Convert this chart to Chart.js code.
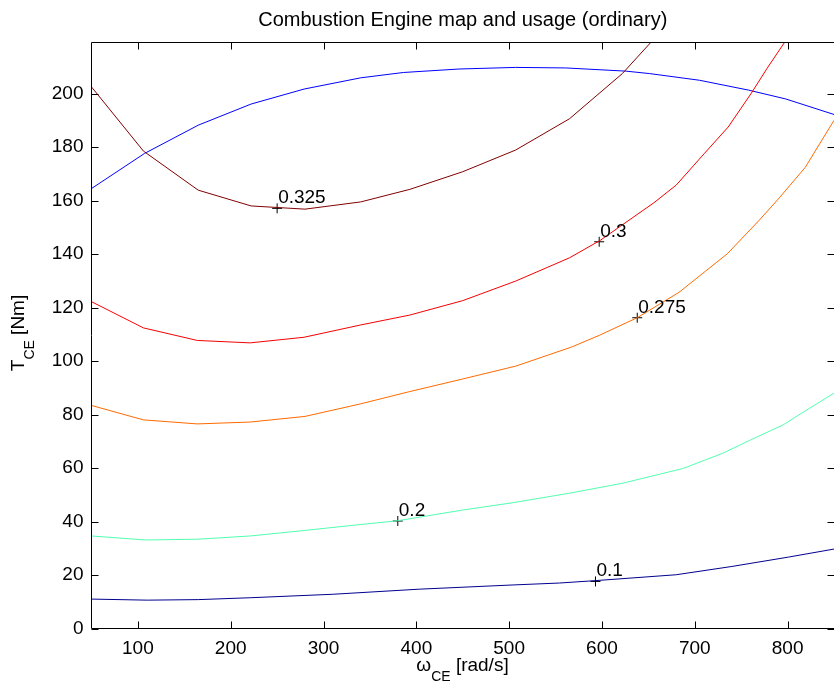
<!DOCTYPE html>
<html>
<head>
<meta charset="utf-8">
<title>Combustion Engine map and usage (ordinary)</title>
<script src="https://cdn.jsdelivr.net/npm/chart.js@4.4.0/dist/chart.umd.min.js"></script>
<style>
html,body{margin:0;padding:0;background:#fff;overflow:hidden;}
#wrap{position:absolute;left:0;top:0;width:840px;height:687px;}
</style>
</head>
<body>
<div id="wrap"><canvas id="map" width="840" height="687"></canvas></div>
<script>
// max torque curve, omega [rad/s] -> T [Nm]
const maxTqX = [50, 107, 165, 222, 279, 340, 386, 446, 507, 561, 626, 651, 705, 758, 798, 850];
const maxTqY = [164.5, 177.6, 188.2, 196.1, 201.7, 205.9, 207.9, 209.2, 209.8, 209.6, 208.4, 207.5, 205.0, 201.3, 198.0, 192.2];

// efficiency contours
const eff0325X = [50, 106, 165, 222, 280, 340, 393, 450, 507, 565, 622, 653];
const eff0325Y = [202.5, 178.5, 163.9, 158.0, 156.8, 159.5, 164.2, 170.8, 178.9, 190.6, 207.5, 219.3];

const eff030X = [50, 106, 164, 221, 279, 340, 393, 450, 507, 565, 598, 656, 680, 710, 736, 761, 778, 797];
const eff030Y = [122.2, 112.4, 107.7, 106.8, 108.9, 113.5, 117.2, 122.6, 129.9, 138.6, 145.1, 159.2, 165.8, 177.5, 187.5, 200.2, 209.5, 219.3];

const eff0275X = [50, 106, 164, 221, 280, 340, 393, 450, 507, 567, 597, 638, 683, 735, 769, 790, 819, 850];
const eff0275Y = [83.4, 78.0, 76.5, 77.2, 79.3, 84.0, 88.6, 93.3, 98.1, 105.2, 109.6, 116.2, 125.7, 140.1, 152.5, 160.6, 172.4, 190.0];

const eff020X = [50, 108, 165, 221, 278, 332, 380, 450, 505, 565, 622, 687, 730, 760, 795, 815, 850];
const eff020Y = [34.6, 33.1, 33.4, 34.6, 36.6, 38.6, 40.3, 44.3, 47.1, 50.6, 54.3, 59.8, 65.5, 70.5, 76.1, 80.5, 88.0];

const eff010X = [50, 110, 165, 221, 310, 403, 505, 554, 593, 680, 740, 801, 850];
const eff010Y = [11.0, 10.6, 10.8, 11.5, 12.8, 14.7, 16.3, 17.0, 17.9, 20.1, 23.2, 26.7, 29.7];

// contour labels
const labelX = [250, 597, 638, 380, 593];
const labelY = [157.1, 144.6, 116.2, 40.2, 17.6];
const labelText = ['0.325', '0.3', '0.275', '0.2', '0.1'];

// axes
const xTicks = [100, 200, 300, 400, 500, 600, 700, 800];
const yTicks = [0, 20, 40, 60, 80, 100, 120, 140, 160, 180, 200];
const xMin = 50, xMax = 850, yMin = 0, yMax = 219.3;

const FONT = "'Liberation Sans', Arial, Helvetica, sans-serif";
Chart.defaults.font.family = FONT;
Chart.defaults.color = '#000';

const pts = (xs, ys) => xs.map((x, i) => ({x: x, y: ys[i]}));
const line = (xs, ys, color) => ({
    data: pts(xs, ys), showLine: true, borderColor: color, borderWidth: 1,
    pointRadius: 0, pointHoverRadius: 0, fill: false, tension: 0
});

// box + inward ticks like the original figure
const boxPlugin = {
    id: 'box',
    afterDatasetsDraw(chart){
        const {ctx, chartArea: a, scales: {x, y}} = chart;
        const L = Math.floor(a.left) + 0.5, R = Math.floor(a.right) + 0.5;
        const T = Math.floor(a.top) + 0.5, B = Math.floor(a.bottom) + 0.5;
        const tl = 7;
        ctx.save();
        ctx.strokeStyle = '#000';
        ctx.lineWidth = 1;
        ctx.beginPath();
        ctx.rect(L, T, R - L, B - T);
        x.ticks.forEach(t=>{
            const px = Math.round(x.getPixelForValue(t.value)) + 0.5;
            ctx.moveTo(px, B); ctx.lineTo(px, B - tl);
            ctx.moveTo(px, T); ctx.lineTo(px, T + tl);
        });
        y.ticks.forEach(t=>{
            const py = Math.round(y.getPixelForValue(t.value)) + 0.5;
            ctx.moveTo(L, py); ctx.lineTo(L + tl, py);
            ctx.moveTo(R, py); ctx.lineTo(R - tl, py);
        });
        ctx.stroke();
        ctx.restore();
    }
};

// contour level text next to the + markers
const levelPlugin = {
    id: 'levels',
    afterDatasetsDraw(chart){
        const {ctx, scales: {x, y}} = chart;
        ctx.save();
        ctx.fillStyle = '#000';
        ctx.font = '19px ' + FONT;
        ctx.textAlign = 'left';
        ctx.textBaseline = 'alphabetic';
        labelText.forEach((txt, i)=>{
            ctx.fillText(txt, x.getPixelForValue(labelX[i]) + 1, y.getPixelForValue(labelY[i]) - 5);
        });
        ctx.restore();
    }
};

// axis titles with subscripts
function drawParts(ctx, parts, cx, base){
    let w = 0;
    parts.forEach(p=>{ ctx.font = (p.sub ? '14px ' : '19px ') + FONT; w += ctx.measureText(p.t).width; });
    let xx = cx - w / 2;
    parts.forEach(p=>{
        ctx.font = (p.sub ? '14px ' : '19px ') + FONT;
        ctx.fillText(p.t, xx, base + (p.sub ? 10 : 0));
        xx += ctx.measureText(p.t).width;
    });
}
const axisTitlePlugin = {
    id: 'axisTitles',
    afterDraw(chart){
        const ctx = chart.ctx;
        ctx.save();
        ctx.fillStyle = '#000';
        ctx.textAlign = 'left';
        ctx.textBaseline = 'alphabetic';
        drawParts(ctx, [{t:'\u03c9'}, {t:'CE', sub:true}, {t:' [rad/s]'}], 462.5, 671);
        ctx.translate(23.5, 333);
        ctx.rotate(-Math.PI / 2);
        drawParts(ctx, [{t:'T'}, {t:'CE', sub:true}, {t:' [Nm]'}], 0, 0);
        ctx.restore();
    }
};

new Chart(document.getElementById('map'), {
    type: 'scatter',
    data: {
        datasets: [
            line(eff010X, eff010Y, '#00008f'),
            line(eff020X, eff020Y, '#50ffb0'),
            line(eff0275X, eff0275Y, '#ff6a00'),
            line(eff030X, eff030Y, '#f50000'),
            line(eff0325X, eff0325Y, '#800000'),
            line(maxTqX, maxTqY, '#0000ff'),
            {
                data: pts(labelX, labelY), showLine: false, pointStyle: 'cross',
                pointRadius: 5, pointHoverRadius: 5, borderColor: '#000', borderWidth: 1
            }
        ]
    },
    options: {
        responsive: false,
        animation: false,
        devicePixelRatio: 1,
        layout: { padding: { left: 0, right: 4.5, top: 0, bottom: 0 } },
        plugins: {
            legend: { display: false },
            tooltip: { enabled: false },
            title: {
                display: true, fullSize: false,
                text: 'Combustion Engine map and usage (ordinary)',
                color: '#000', font: { size: 20, weight: 'normal' },
                padding: { top: 8.5, bottom: 9.5 }
            }
        },
        scales: {
            x: {
                type: 'linear', min: xMin, max: xMax,
                grid: { display: false, drawTicks: false },
                border: { display: false },
                ticks: { font: { size: 19 }, padding: 9, maxRotation: 0, autoSkip: false },
                afterBuildTicks: s=>{ s.ticks = xTicks.map(v=>({value: v})); },
                afterFit: s=>{ s.height = 58.5; }
            },
            y: {
                type: 'linear', min: yMin, max: yMax,
                grid: { display: false, drawTicks: false },
                border: { display: false },
                ticks: { font: { size: 19 }, padding: 8, autoSkip: false },
                afterBuildTicks: s=>{ s.ticks = yTicks.map(v=>({value: v})); },
                afterFit: s=>{ s.width = 91.5; }
            }
        }
    },
    plugins: [boxPlugin, levelPlugin, axisTitlePlugin]
});
</script>
</body>
</html>
